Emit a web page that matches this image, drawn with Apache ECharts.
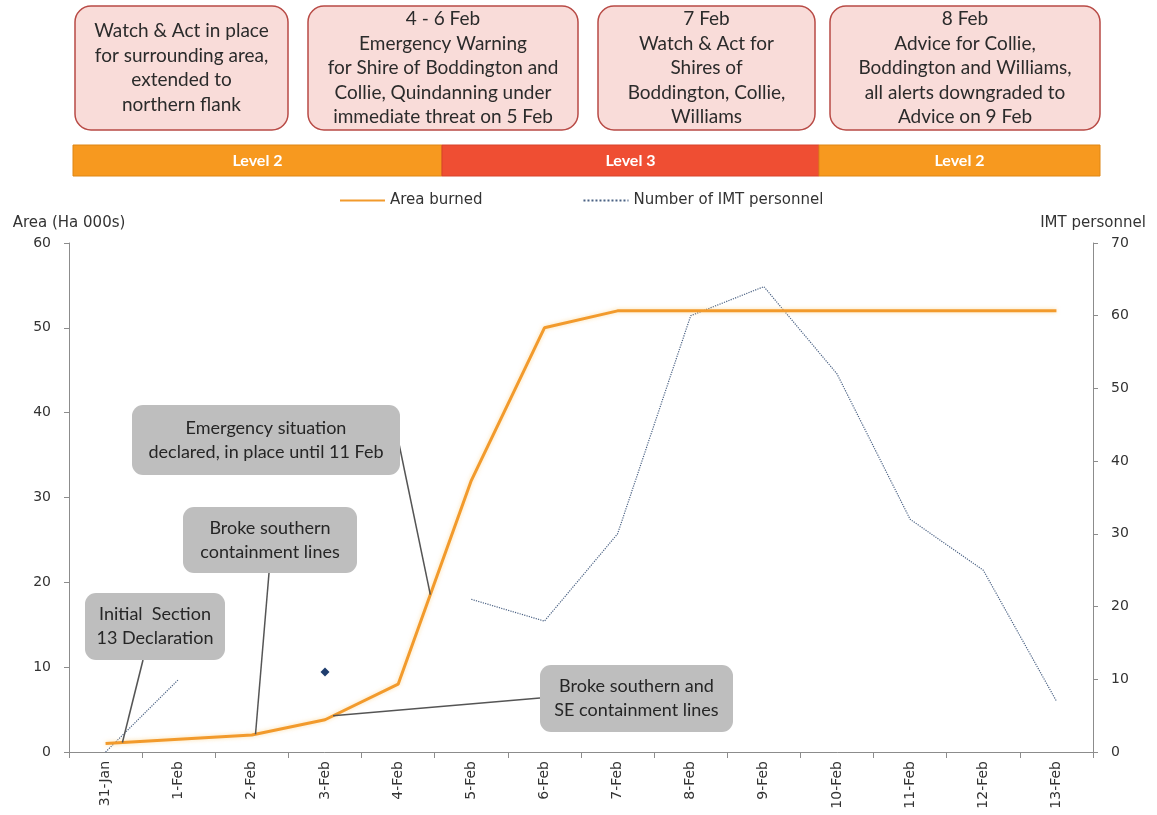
<!DOCTYPE html>
<html>
<head>
<meta charset="utf-8">
<script src="https://cdn.jsdelivr.net/npm/echarts@6/dist/echarts.min.js"></script>
<style>
  html, body { margin: 0; padding: 0; background: #ffffff; }
  #chart { width: 1157px; height: 815px; }
</style>
</head>
<body>
<div id="chart"></div>
<script>
// ---- data ----
const dates = ['31-Jan', '1-Feb', '2-Feb', '3-Feb', '4-Feb', '5-Feb', '6-Feb',
               '7-Feb', '8-Feb', '9-Feb', '10-Feb', '11-Feb', '12-Feb', '13-Feb'];
// Area burned, thousands of hectares
const areaBurned = [1, 1.5, 2, 3.8, 8, 32, 50, 52, 52, 52, 52, 52, 52, 52];
// Number of IMT personnel (gaps where no count was recorded)
const imtPersonnel = [0, 10, null, 11, null, 21, 18, 30, 60, 64, 52, 32, 25, 7];

const areaAxis = { min: 0, max: 60, interval: 10 };
const imtAxis = { min: 0, max: 70, interval: 10 };

const seriesNames = ['Area burned', 'Number of IMT personnel'];
const axisNames = ['Area (Ha 000s)', 'IMT personnel'];

// alert messages shown above the incident level bar
const alertTexts = [
  ['Watch & Act in place', 'for surrounding area,', 'extended to', 'northern flank'],
  ['4 - 6 Feb', 'Emergency Warning', 'for Shire of Boddington and', 'Collie, Quindanning under', 'immediate threat on 5 Feb'],
  ['7 Feb', 'Watch & Act for', 'Shires of', 'Boddington, Collie,', 'Williams'],
  ['8 Feb', 'Advice for Collie,', 'Boddington and Williams,', 'all alerts downgraded to', 'Advice on 9 Feb']
];
const levelLabels = ['Level 2', 'Level 3', 'Level 2'];

// event notes; anchor = position along the date axis where the note points
const noteTexts = [
  ['Initial  Section', '13 Declaration'],
  ['Broke southern', 'containment lines'],
  ['Emergency situation', 'declared, in place until 11 Feb'],
  ['Broke southern and', 'SE containment lines']
];
const noteAnchors = [0.23, 2.05, 4.44, 3.11];

// ---- layout ----
const alertBoxLayout = [
  { x: 75, w: 213 }, { x: 308, w: 270 }, { x: 598, w: 217 }, { x: 830, w: 270 }
];
const alertTop = 6, alertH = 124;
const levelLayout = [
  { x: 73, w: 369, fill: '#F7991F', stroke: '#DE8614' },
  { x: 442, w: 377, fill: '#EF4E33', stroke: '#D8432A' },
  { x: 819, w: 281, fill: '#F7991F', stroke: '#DE8614' }
];
const levelTop = 145, levelH = 31;
const noteLayout = [
  { x: 85, y: 593, w: 140, h: 67, sx: 143, sy: 660 },
  { x: 183, y: 507, w: 174, h: 66, sx: 269, sy: 573 },
  { x: 132, y: 405, w: 268, h: 70, sx: 398, sy: 439 },
  { x: 540, y: 665, w: 193, h: 67, sx: 540, sy: 698 }
];

const AXIS_FONT = '"DejaVu Sans", Verdana, sans-serif';
const BOX_FONT = 'Lato, "Open Sans", sans-serif';
const ORANGE = '#F29A2C';
const IMT_COLOR = '#4B6284';

const chart = echarts.init(document.getElementById('chart'), null, { renderer: 'canvas' });

const imtData = imtPersonnel.map((v, i) => {
  const isolated = v != null && imtPersonnel[i - 1] == null && imtPersonnel[i + 1] == null;
  return isolated
    ? { value: v, symbol: 'diamond', symbolSize: 9, itemStyle: { color: '#1F3D6E' } }
    : v;
});

function boxGraphic(rectShape, style, lines, textStyle, z) {
  return {
    type: 'rect',
    z: z,
    shape: rectShape,
    style: style,
    textContent: {
      z: z + 1,
      style: Object.assign({ text: lines.join('\n'), align: 'center', verticalAlign: 'middle' }, textStyle)
    },
    textConfig: { position: 'inside' }
  };
}

function staticGraphics() {
  const g = [];
  alertTexts.forEach((lines, i) => {
    const L = alertBoxLayout[i];
    g.push(boxGraphic(
      { x: L.x, y: alertTop, width: L.w, height: alertH, r: 16 },
      { fill: '#F9DCD9', stroke: '#B84A45', lineWidth: 1.5 },
      lines,
      { fill: '#2b2b2b', font: '19px ' + BOX_FONT, lineHeight: 24.5 },
      10
    ));
  });
  levelLabels.forEach((label, i) => {
    const L = levelLayout[i];
    g.push(boxGraphic(
      { x: L.x, y: levelTop, width: L.w, height: levelH },
      { fill: L.fill, stroke: L.stroke, lineWidth: 1 },
      [label],
      { fill: '#ffffff', font: 'bold 16px ' + BOX_FONT },
      10
    ));
  });
  return g;
}

chart.setOption({
  animation: false,
  backgroundColor: '#ffffff',
  grid: { left: 69, right: 64, top: 243, bottom: 63 },
  legend: {
    left: 334,
    top: 188,
    itemWidth: 45,
    itemHeight: 3,
    itemGap: 100,
    itemStyle: { opacity: 0 },
    textStyle: { fontFamily: AXIS_FONT, fontSize: 15, color: '#333333' },
    data: seriesNames
  },
  xAxis: {
    type: 'category',
    data: dates,
    boundaryGap: true,
    axisLine: { lineStyle: { color: '#8c8c8c', width: 1 } },
    axisTick: { show: true, length: 6, lineStyle: { color: '#8c8c8c' } },
    axisLabel: {
      interval: 0, rotate: 90, margin: 9,
      fontFamily: AXIS_FONT, fontSize: 14, color: '#333333'
    },
    splitLine: { show: false }
  },
  yAxis: [
    {
      type: 'value', position: 'left',
      min: areaAxis.min, max: areaAxis.max, interval: areaAxis.interval,
      name: axisNames[0], nameLocation: 'end', nameGap: 12,
      nameTextStyle: { fontFamily: AXIS_FONT, fontSize: 15, color: '#333333' },
      axisLine: { show: true, lineStyle: { color: '#8c8c8c' } },
      axisTick: { show: true, length: 5, lineStyle: { color: '#8c8c8c' } },
      axisLabel: { margin: 18, fontFamily: AXIS_FONT, fontSize: 14, color: '#333333' },
      splitLine: { show: false }
    },
    {
      type: 'value', position: 'right',
      min: imtAxis.min, max: imtAxis.max, interval: imtAxis.interval,
      name: axisNames[1], nameLocation: 'end', nameGap: 12,
      nameTextStyle: { fontFamily: AXIS_FONT, fontSize: 15, color: '#333333' },
      axisLine: { show: true, lineStyle: { color: '#8c8c8c' } },
      axisTick: { show: true, length: 5, lineStyle: { color: '#8c8c8c' } },
      axisLabel: { margin: 18, fontFamily: AXIS_FONT, fontSize: 14, color: '#333333' },
      splitLine: { show: false }
    }
  ],
  series: [
    {
      name: seriesNames[0],
      type: 'line',
      yAxisIndex: 0,
      data: areaBurned,
      symbol: 'none',
      z: 4,
      itemStyle: { color: ORANGE },
      lineStyle: {
        color: ORANGE, width: 3,
        shadowColor: 'rgba(250, 200, 110, 0.6)', shadowBlur: 4
      }
    },
    {
      name: seriesNames[1],
      type: 'line',
      yAxisIndex: 1,
      data: imtData,
      symbol: 'none',
      showSymbol: true,
      connectNulls: false,
      z: 3,
      itemStyle: { color: IMT_COLOR },
      lineStyle: { color: IMT_COLOR, width: 1.2, type: 'dotted' }
    }
  ],
  graphic: staticGraphics()
});

// point on the area line at a (possibly fractional) date position
function areaLinePoint(pos) {
  const i0 = Math.floor(pos), i1 = Math.min(i0 + 1, areaBurned.length - 1);
  const t = pos - i0;
  const p0 = chart.convertToPixel({ seriesIndex: 0 }, [i0, areaBurned[i0]]);
  const p1 = chart.convertToPixel({ seriesIndex: 0 }, [i1, areaBurned[i1]]);
  return [p0[0] + (p1[0] - p0[0]) * t, p0[1] + (p1[1] - p0[1]) * t];
}

const notes = [];
noteTexts.forEach((lines, i) => {
  const L = noteLayout[i];
  const end = areaLinePoint(noteAnchors[i]);
  notes.push({
    type: 'line', z: 50,
    shape: { x1: L.sx, y1: L.sy, x2: end[0], y2: end[1] },
    style: { stroke: '#555555', lineWidth: 1.5 }
  });
});
noteTexts.forEach((lines, i) => {
  const L = noteLayout[i];
  notes.push(boxGraphic(
    { x: L.x, y: L.y, width: L.w, height: L.h, r: 11 },
    { fill: '#BEBEBE' },
    lines,
    { fill: '#262626', font: '18px ' + BOX_FONT, lineHeight: 24 },
    60
  ));
});

chart.setOption({ graphic: staticGraphics().concat(notes) });
</script>
</body>
</html>
